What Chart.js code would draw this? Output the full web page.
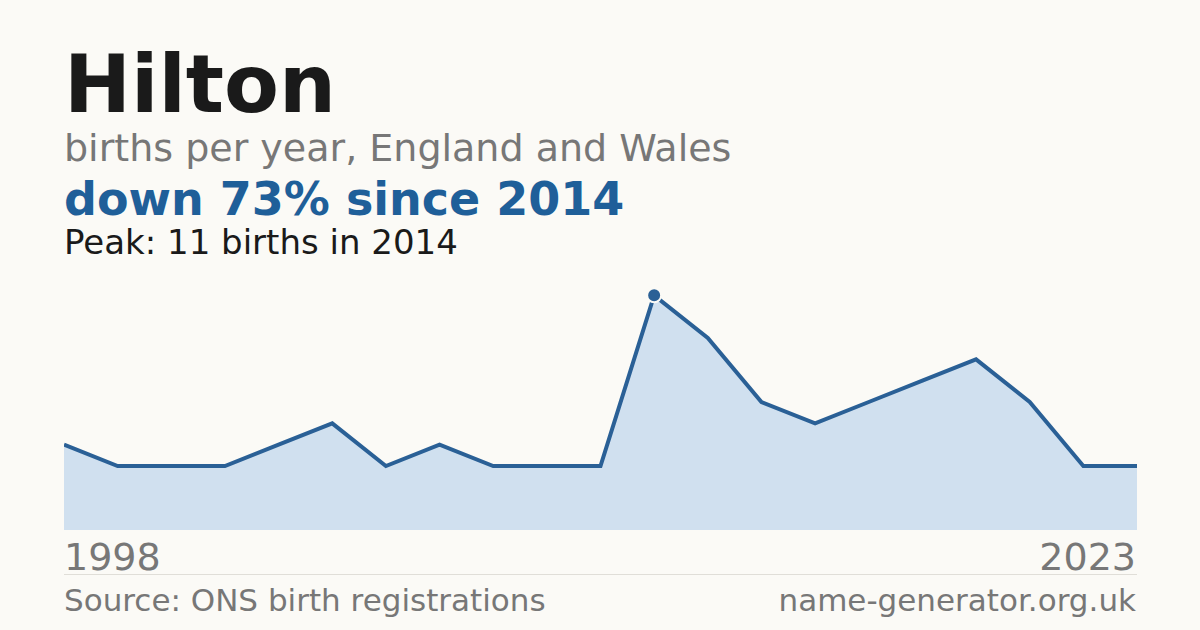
<!DOCTYPE html><html><head><meta charset="utf-8">
<script src="https://cdn.jsdelivr.net/npm/chart.js@4"></script>
<style>
body{margin:0;width:1200px;height:630px;background:#fbfaf6;font-family:"DejaVu Sans",sans-serif;position:relative;overflow:hidden}
.t{position:absolute;left:64px;white-space:nowrap}
#wrap{position:absolute;left:64px;top:274px;width:1073px;height:256px}
</style></head><body>
<div class="t" style="top:38px;font-size:80px;font-weight:bold;color:#1a1a1a">Hilton</div>
<div class="t" style="top:126px;font-size:38px;color:#777">births per year, England and Wales</div>
<div class="t" style="top:172px;font-size:46px;font-weight:bold;color:#1f5f99">down 73% since 2014</div>
<div class="t" style="top:222px;font-size:34px;color:#1a1a1a">Peak: 11 births in 2014</div>
<div id="wrap"><canvas id="c"></canvas></div>
<div class="t" style="top:535px;font-size:38px;color:#777">1998</div>
<div class="t" style="top:535px;left:auto;right:64px;font-size:38px;color:#777">2023</div>
<div style="position:absolute;left:64px;width:1073px;top:574px;border-top:1px solid #e0ded8"></div>
<div class="t" style="top:582px;font-size:31px;color:#777">Source: ONS birth registrations</div>
<div class="t" style="top:582px;left:auto;right:64px;font-size:31px;color:#777">name-generator.org.uk</div>
<script>
const years=["1998","1999","2001","2002","2004","2006","2007","2009","2010","2012","2013","2014","2015","2016","2017","2018","2019","2020","2021","2022","2023"];
const births=[4,3,3,3,4,5,3,4,3,3,3,11,9,6,5,6,7,8,6,3,3];
const peakIdx=births.indexOf(Math.max(...births));
new Chart(document.getElementById('c'),{type:'line',
data:{labels:years,datasets:[{data:births,borderColor:'#2a6096',borderWidth:4,fill:true,backgroundColor:'#d0e0ef',tension:0,
pointRadius:births.map((v,i)=>i===peakIdx?7:0),pointBackgroundColor:'#2a6096',pointBorderColor:'#fbfaf6',pointBorderWidth:2}]},
options:{responsive:true,maintainAspectRatio:false,animation:false,clip:false,layout:{padding:0},
plugins:{legend:{display:false},tooltip:{enabled:false}},
scales:{x:{display:false,offset:false},y:{display:false,min:0,max:12}}}});
</script></body></html>
